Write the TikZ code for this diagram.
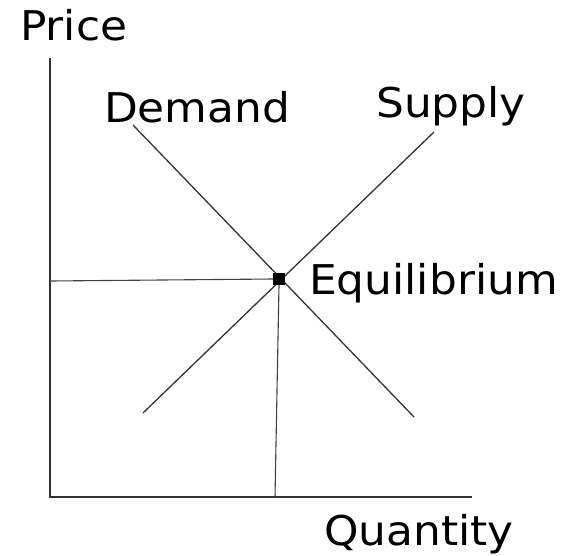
\documentclass[tikz,border=0pt]{standalone}
\usepackage{fontspec}
\setmainfont{DejaVu Sans}[FakeStretch=1.07]
\usepackage{tikz}
\usetikzlibrary{positioning, calc}

\begin{document}
\begin{tikzpicture}[
    x=1pt, y=-1pt,
    font=\fontsize{41}{45}\selectfont,
    axis/.style={line width=1.7pt, draw=black!80},
    curve/.style={line width=1.3pt, draw=black!80},
    guide/.style={line width=1.1pt, draw=black!75},
    lbl/.style={anchor=base west, inner sep=0pt},
    eqpt/.style={fill=black, minimum size=12pt, inner sep=0pt},
  ]
    \useasboundingbox (0,0) rectangle (578,555);
    % axes
    \coordinate (top) at (50,58);
    \coordinate (origin) at (50,497);
    \coordinate (right) at (472,497);
    \draw[axis] (top) -- (origin) -- (right);
    % curves
    \coordinate (dtop) at (133,125);
    \coordinate (dbot) at (414,417);
    \coordinate (sbot) at (143,413);
    \coordinate (stop) at (434,132);
    \draw[curve] (dtop) -- (dbot);
    \draw[curve] (sbot) -- (stop);
    \node[eqpt] (eq) at (279,279) {};
    % guides
    \coordinate (py) at (50,281);
    \coordinate (qx) at (275,497);
    \draw[guide] (py) -- (eq.west);
    \draw[guide] (eq.south) -- (qx);
    % labels
    \node[lbl] (price) at (20,40) {Price};
    \node[lbl] (dem) at (104,122) {Demand};
    \node[lbl] (sup) at (376,117) {Supply};
    \node[lbl] (eqlbl) at (309,294) {Equilibrium};
    \node[lbl] (qty) at (324,545) {Quantity};
  \end{tikzpicture}
\end{document}
